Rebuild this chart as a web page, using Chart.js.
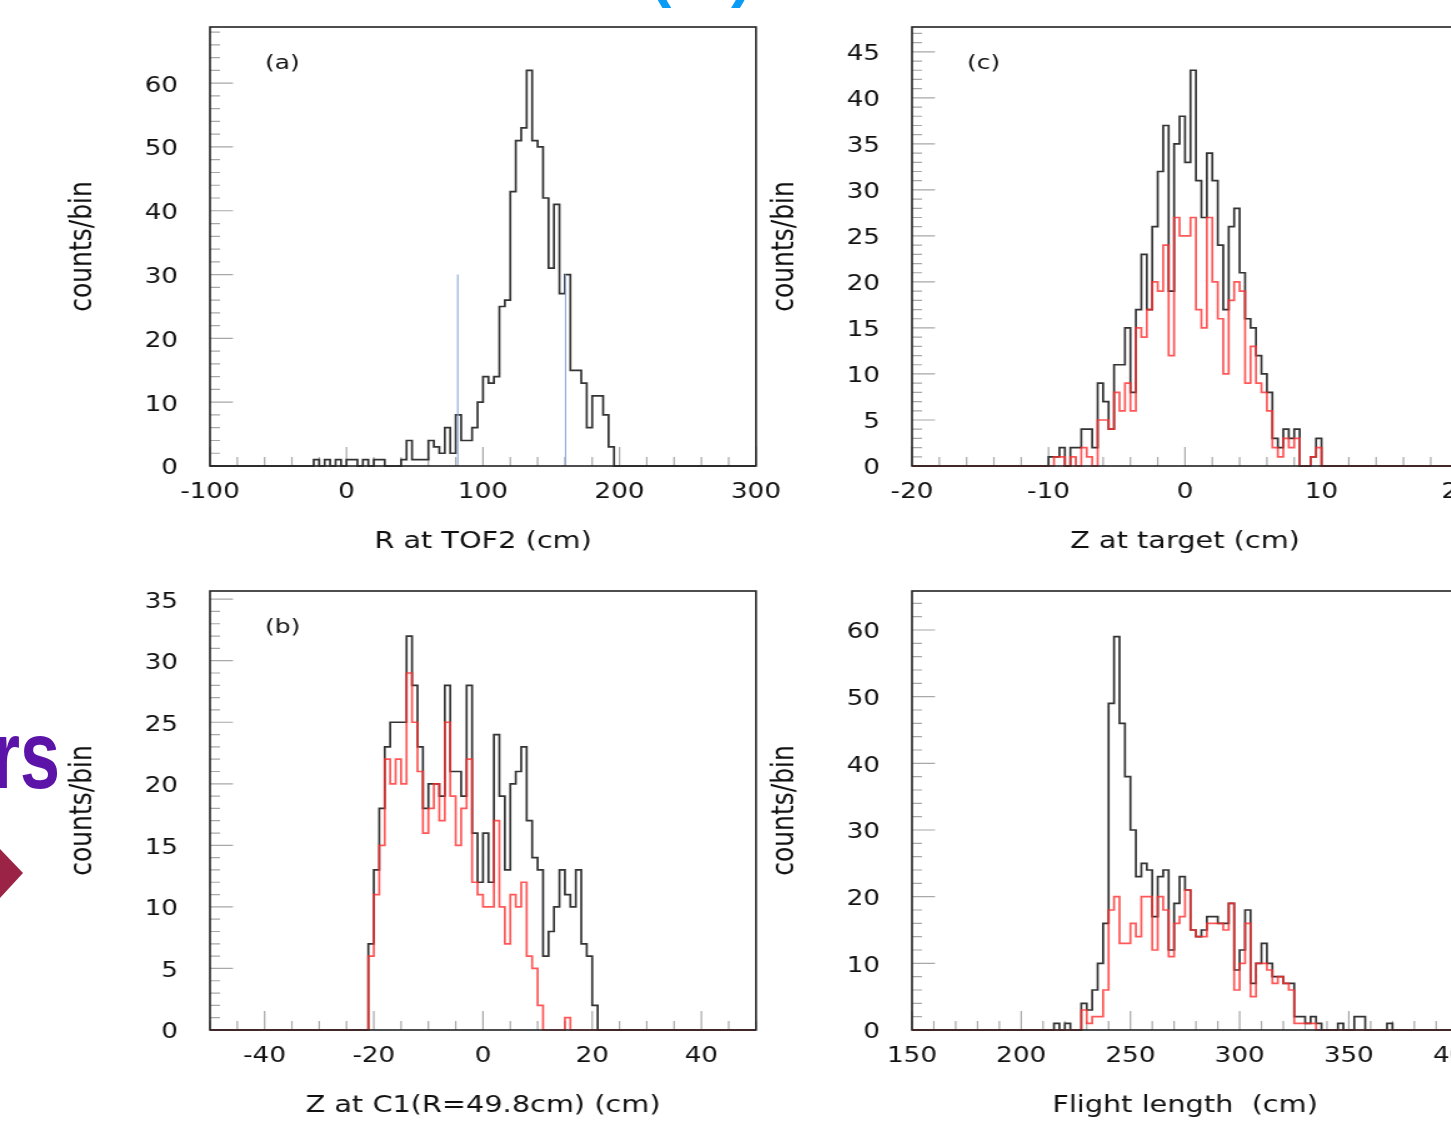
<!DOCTYPE html>
<html>
<head>
<meta charset="utf-8">
<title>TOF2 / target / C1 / flight length</title>
<script src="https://cdn.jsdelivr.net/npm/chart.js@4.4.1/dist/chart.umd.min.js"></script>
<style>
  body { margin: 0; width: 1451px; height: 1126px; overflow: hidden; background: #fff; position: relative; }
  .panel { position: absolute; transform: scaleX(1.25); transform-origin: 0 0; }
  .panel canvas { display: block; }
  .paren { position: absolute; top: -59px; font: bold 64px/64px "Liberation Sans", sans-serif; color: #0a9cf5; }
  .word { position: absolute; left: -100px; top: 705px; width: 160px; text-align: right; font: bold 96px/100px "Liberation Sans", sans-serif; color: #5c14a8; transform: scaleX(0.75); transform-origin: 160px 0; }
  .diamond { position: absolute; left: 0; top: 840px; width: 30px; height: 70px; background: #9b2446; clip-path: polygon(0 9px, 23px 33px, 0 58px); }
</style>
</head>
<body>
<div class="paren" style="left:650px">(</div>
<div class="paren" style="left:731px">)</div>
<div class="word">rs</div>
<div class="diamond"></div>

<div class="panel" style="left:50px;top:0px"><canvas id="chartA" width="595" height="580"></canvas></div>
<div class="panel" style="left:752px;top:0px"><canvas id="chartC" width="595" height="580"></canvas></div>
<div class="panel" style="left:50px;top:564px"><canvas id="chartB" width="595" height="580"></canvas></div>
<div class="panel" style="left:752px;top:564px"><canvas id="chartD" width="595" height="580"></canvas></div>

<script>
// (a) R at TOF2, 4 cm bins, first bin starts at -24
const firstBinA = -24;
const binWidthA = 4;
const countsA = [1, 0, 1, 0, 1, 0, 1, 1, 0, 1, 0, 1, 1, 0, 0, 0, 1, 4, 1, 1,
                 1, 4, 3, 2, 6, 2, 8, 4, 4, 6, 10, 14, 13, 14, 25, 26, 43, 51, 53, 62,
                 51, 50, 42, 31, 41, 27, 30, 15, 15, 13, 6, 11, 11, 8, 3];
const cutsA = [81.5, 160.5];
const cutHeightA = 30;
const xTicksA = [-100, 0, 100, 200, 300];
const yTicksA = [0, 10, 20, 30, 40, 50, 60];

// (b) Z at C1, 1 cm bins from -21
const firstBinB = -21;
const binWidthB = 1;
const allB = [7, 13, 18, 23, 25, 25, 25, 32, 28, 23, 18, 20, 20, 19, 28, 21, 21, 19, 28, 16,
              12, 16, 12, 24, 19, 13, 20, 21, 23, 17, 14, 13, 6, 8, 10, 13, 11, 10, 13, 7, 6, 2];
const cutB = [6, 11, 15, 22, 20, 22, 20, 29, 25, 21, 16, 18, 20, 17, 25, 19, 15, 18, 22, 12,
              11, 10, 10, 17, 10, 7, 11, 10, 12, 6, 5, 2, 0, 0, 0, 0, 1];
const xTicksB = [-40, -20, 0, 20, 40];
const yTicksB = [0, 5, 10, 15, 20, 25, 30, 35];

// (c) Z at target, 0.4 cm bins from -10
const firstBinC = -10;
const binWidthC = 0.4;
const allC = [1, 1, 2, 0, 2, 2, 4, 4, 2, 9, 7, 4, 11, 11, 15, 8, 17, 23, 17, 26,
              32, 37, 19, 35, 38, 33, 43, 31, 27, 34, 31, 24, 17, 26, 28, 21, 16, 15, 12, 10,
              8, 3, 2, 4, 3, 4, 0, 0, 1, 3];
const cutC = [0, 1, 1, 0, 1, 0, 2, 1, 0, 5, 5, 4, 8, 6, 9, 6, 15, 14, 17, 20,
              19, 24, 12, 27, 25, 25, 27, 17, 15, 27, 20, 16, 10, 18, 20, 19, 9, 13, 9, 8,
              6, 2, 1, 3, 2, 3, 0, 0, 1, 2];
const xTicksC = [-20, -10, 0, 10, 20];
const yTicksC = [0, 5, 10, 15, 20, 25, 30, 35, 40, 45];

// (d) flight length, 2.5 cm bins
const firstBinD = 215;
const binWidthD = 2.5;
const allD = [1, 0, 1, 0, 0, 4, 3, 6, 10, 16, 49, 59, 46, 38, 30, 23, 25, 24, 17, 23,
              24, 12, 19, 23, 21, 15, 14, 15, 17, 17, 16, 16, 19, 9, 12, 18, 7, 10, 13, 10,
              8, 8, 7, 7, 2, 2, 1, 2, 1, 0, 0, 0, 1, 0, 0, 2, 2, 0, 0, 0, 0, 1];
const firstCutD = 227.5;
const cutD = [3, 1, 2, 2, 6, 18, 20, 13, 13, 16, 14, 20, 20, 12, 20, 18, 11, 16, 17, 21,
              15, 14, 14, 16, 16, 16, 15, 19, 6, 10, 16, 5, 10, 10, 9, 7, 8, 7, 6, 1, 1, 1, 1];
const xTicksD = [150, 200, 250, 300, 350, 400];
const yTicksD = [0, 10, 20, 30, 40, 50, 60];

const FONT = '"DejaVu Sans", sans-serif';
const BLACK = '#333';
const RED = 'rgba(255, 45, 45, 0.8)';

// step outline over the whole axis range, zero outside the filled bins
function histPoints(first, width, counts, lo, hi) {
  const pts = [];
  const before = Math.round((first - lo) / width);
  const total = Math.round((hi - lo) / width);
  for (let i = 0; i < total; i++) {
    const j = i - before;
    pts.push({ x: lo + i * width, y: (j >= 0 && j < counts.length) ? counts[j] : 0 });
  }
  pts.push({ x: hi, y: 0 });
  return pts;
}

function isMultiple(v, step) {
  const r = v / step;
  return Math.abs(r - Math.round(r)) < 1e-6;
}

// ROOT-like frame: inner ticks, box, pad label
const rootFrame = {
  id: 'rootFrame',
  beforeDatasetsDraw(chart, args, o) {
    const { ctx, chartArea: a, scales: { x, y } } = chart;
    ctx.save();
    ctx.strokeStyle = '#a8a8a8';
    ctx.lineWidth = 1.2;
    ctx.beginPath();
    const nx = Math.round((x.max - x.min) / o.xMinor);
    for (let i = 0; i <= nx; i++) {
      const v = x.min + i * o.xMinor;
      const px = x.getPixelForValue(v);
      ctx.moveTo(px, a.bottom);
      ctx.lineTo(px, a.bottom - (isMultiple(v, o.xMajor) ? 19 : 9));
    }
    const ny = Math.floor(y.max / o.yMinor);
    for (let i = 0; i <= ny; i++) {
      const v = i * o.yMinor;
      const py = y.getPixelForValue(v);
      ctx.moveTo(a.left, py);
      ctx.lineTo(a.left + (isMultiple(v, o.yMajor) ? 18.4 : 8), py);
    }
    ctx.stroke();
    ctx.restore();
  },
  afterDatasetsDraw(chart, args, o) {
    const { ctx, chartArea: a } = chart;
    ctx.save();
    ctx.strokeStyle = '#222';
    ctx.lineWidth = 1.6;
    ctx.strokeRect(a.left, a.top, a.right - a.left, a.bottom - a.top);
    if (o.label) {
      ctx.fillStyle = '#111';
      ctx.font = '20px ' + FONT;
      ctx.textBaseline = 'middle';
      ctx.fillText(o.label, a.left + 44, a.top + 37);
    }
    ctx.restore();
  }
};

function makeChart(id, cfg) {
  const datasets = cfg.series.map(s => ({
    data: s.data,
    borderColor: s.color,
    borderWidth: s.width || 1.7,
    stepped: s.stepped === false ? false : true,
    pointRadius: 0,
    fill: false,
    clip: 4
  }));
  return new Chart(document.getElementById(id), {
    type: 'line',
    data: { datasets: datasets },
    options: {
      responsive: false,
      animation: false,
      events: [],
      layout: { padding: { top: 27, right: 30.2, bottom: 0, left: 0 } },
      plugins: {
        legend: { display: false },
        tooltip: { enabled: false },
        rootFrame: { label: cfg.label, xMinor: cfg.xMinor, xMajor: cfg.xMajor, yMinor: cfg.yMinor, yMajor: cfg.yMajor }
      },
      scales: {
        x: {
          type: 'linear',
          min: cfg.xMin,
          max: cfg.xMax,
          grid: { display: false, drawTicks: false },
          border: { display: false },
          afterBuildTicks: s => { s.ticks = cfg.xTicks.map(v => ({ value: v })); },
          afterFit: s => { s.height = 114; s.paddingLeft = 0; s.paddingRight = 0; },
          ticks: { padding: 14, color: '#111', font: { family: FONT, size: 21 }, maxRotation: 0, autoSkip: false,
                   callback: v => String(v) },
          title: { display: true, text: cfg.xTitle, color: '#111', font: { family: FONT, size: 23 },
                   padding: { top: 0, bottom: 24 } }
        },
        y: {
          type: 'linear',
          min: 0,
          max: cfg.yMax,
          grid: { display: false, drawTicks: false },
          border: { display: false },
          afterBuildTicks: s => { s.ticks = cfg.yTicks.map(v => ({ value: v })); },
          afterFit: s => { s.width = 128; s.paddingTop = 0; s.paddingBottom = 0; },
          ticks: { padding: 25.6, labelOffset: 3, color: '#111', font: { family: FONT, size: 21 }, autoSkip: false,
                   callback: v => String(v) },
          title: { display: true, text: 'counts/bin', color: '#111', font: { family: FONT, size: 25 },
                   padding: { top: 11, bottom: 0 } }
        }
      }
    },
    plugins: [rootFrame]
  });
}

makeChart('chartA', {
  label: '(a)', xTitle: 'R at TOF2 (cm)', xMin: -100, xMax: 300, yMax: 68.8,
  xTicks: xTicksA, yTicks: yTicksA, xMinor: 20, xMajor: 100, yMinor: 2, yMajor: 10,
  series: [
    { data: [{ x: cutsA[0], y: 0 }, { x: cutsA[0], y: cutHeightA }], color: '#90a8d8', width: 1.1, stepped: false },
    { data: [{ x: cutsA[1], y: 0 }, { x: cutsA[1], y: cutHeightA }], color: '#90a8d8', width: 1.1, stepped: false },
    { data: histPoints(firstBinA, binWidthA, countsA, -100, 300), color: BLACK }
  ]
});

makeChart('chartC', {
  label: '(c)', xTitle: 'Z at target (cm)', xMin: -20, xMax: 20, yMax: 47.7,
  xTicks: xTicksC, yTicks: yTicksC, xMinor: 2, xMajor: 10, yMinor: 1, yMajor: 5,
  series: [
    { data: histPoints(firstBinC, binWidthC, cutC, -20, 20), color: RED },
    { data: histPoints(firstBinC, binWidthC, allC, -20, 20), color: BLACK }
  ]
});

makeChart('chartB', {
  label: '(b)', xTitle: 'Z at C1(R=49.8cm) (cm)', xMin: -50, xMax: 50, yMax: 35.66,
  xTicks: xTicksB, yTicks: yTicksB, xMinor: 5, xMajor: 20, yMinor: 1, yMajor: 5,
  series: [
    { data: histPoints(firstBinB, binWidthB, cutB, -50, 50), color: RED },
    { data: histPoints(firstBinB, binWidthB, allB, -50, 50), color: BLACK }
  ]
});

makeChart('chartD', {
  label: '', xTitle: 'Flight length  (cm)', xMin: 150, xMax: 400, yMax: 65.85,
  xTicks: xTicksD, yTicks: yTicksD, xMinor: 10, xMajor: 50, yMinor: 2, yMajor: 10,
  series: [
    { data: histPoints(firstCutD, binWidthD, cutD, 150, 400), color: RED },
    { data: histPoints(firstBinD, binWidthD, allD, 150, 400), color: BLACK }
  ]
});
</script>
</body>
</html>
